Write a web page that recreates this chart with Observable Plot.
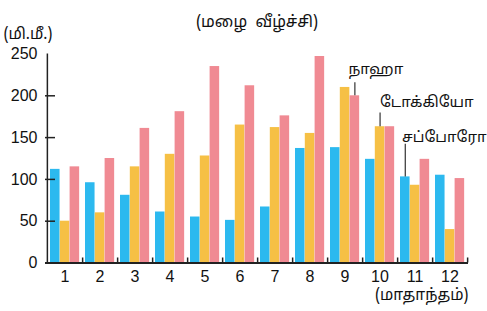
<!DOCTYPE html>
<html>
<head>
<meta charset="utf-8">
<script src="https://cdn.jsdelivr.net/npm/d3@7"></script>
<script src="https://cdn.jsdelivr.net/npm/@observablehq/plot@0.6"></script>
<style>
  html, body { margin: 0; padding: 0; background: #fff; }
  svg { display: block; }
</style>
</head>
<body>
<div id="chart"></div>
<script>
// ---- data ----
const months = [1, 2, 3, 4, 5, 6, 7, 8, 9, 10, 11, 12];
const cities = ["சப்போரோ", "டோக்கியோ", "நாஹா"];
const sapporo = [112, 96, 81, 61, 55, 51, 67, 137, 138, 124, 103, 105];
const tokyo   = [50, 60, 115, 130, 128, 165, 162, 155, 210, 163, 93, 40];
const naha    = [115, 125, 161, 181, 235, 212, 176, 247, 200, 163, 124, 101];
const yTicks = [0, 50, 100, 150, 200, 250];
const title = "(மழை  வீழ்ச்சி)";
const yUnit = "(மி.மீ.)";
const xUnit = "(மாதாந்தம்)";
// month at which each city's label is attached
const labelMonths = [11, 10, 9];

// ---- layout ----
const W = 487, H = 311;
const mL = 45, mR = 19, mT = 53.5, mB = 48.5;
const bw = (W - mL - mR) / months.length;
const barW = 9.8, padL = 3;
const colors = ["#2cb9ef", "#f6c045", "#f08a93"];
const tamilFont = "'Noto Sans Tamil', 'Noto Serif Tamil', 'Lohit Tamil', 'Latha', 'Liberation Sans', sans-serif";
const numFont = "'Liberation Sans', Arial, Helvetica, sans-serif";
// annotation layout: line top (data units), text centre (data units), text start offset from band centre (px)
const annLayout = [
  {lineTop: 142, textY: 151, dx: -13},
  {lineTop: 179.5, textY: 192, dx: 0},
  {lineTop: 215.5, textY: 232, dx: 3.4}
];

const series = [sapporo, tokyo, naha];
const table = [];
series.forEach((vals, i) => months.forEach((m, j) => table.push({month: m, city: cities[i], ci: i, value: vals[j]})));

const barMarks = series.map((vals, i) =>
  Plot.barY(table.filter(d => d.ci === i), {
    x: "month", y: "value", fill: colors[i],
    insetLeft: padL + barW * i,
    insetRight: bw - padL - barW * (i + 1)
  })
);

const annMarks = [];
cities.forEach((c, i) => {
  const m = labelMonths[i];
  const v = series[i][months.indexOf(m)];
  const centerDx = padL + barW * (i + 0.5) - bw / 2;
  annMarks.push(Plot.ruleX([{month: m, v, top: annLayout[i].lineTop}], {
    x: "month", y1: "v", y2: "top", dx: centerDx, stroke: "#333", strokeWidth: 1.2
  }));
  annMarks.push(Plot.text([{month: m, y: annLayout[i].textY, label: c}], {
    x: "month", y: "y", text: "label", textAnchor: "start", dx: annLayout[i].dx,
    fontSize: 15, fill: "#111", fontFamily: tamilFont
  }));
});

const chart = Plot.plot({
  width: W, height: H,
  marginLeft: mL, marginRight: mR, marginTop: mT, marginBottom: mB,
  style: {fontFamily: numFont, fontSize: "15px", color: "#111", background: "#fff"},
  x: {type: "band", domain: months, padding: 0, label: null},
  y: {domain: [0, 250], ticks: yTicks, label: null},
  marks: [
    ...barMarks,
    // y tick marks (inside)
    Plot.ruleY(yTicks.filter(t => t > 0 && t < 250), {stroke: "#222", strokeWidth: 1.5, insetRight: W - mL - mR - 10}),
    // x boundary ticks
    Plot.ruleX(months, {x: d => d, y1: 0, y2: 6, dx: bw / 2, stroke: "#222", strokeWidth: 1.5}),
    // y axis line
    Plot.ruleX([months[0]], {x: d => d, y1: 0, y2: 250, dx: -bw / 2, stroke: "#222", strokeWidth: 1.5}),
    // x axis line
    Plot.ruleY([0], {stroke: "#222", strokeWidth: 2}),
    Plot.axisY({ticks: yTicks, tickSize: 0, tickPadding: 8, fontSize: 16, fill: "#111", label: null}),
    Plot.axisX({tickSize: 0, tickPadding: 8, fontSize: 16, fill: "#111", label: null}),
    ...annMarks,
    Plot.text([title], {frameAnchor: "top", dy: -38.5, fontSize: 16, fill: "#111", fontFamily: tamilFont}),
    Plot.text([yUnit], {frameAnchor: "top-left", textAnchor: "start", dx: -42, dy: -26.5, fontSize: 15.5, fill: "#111", fontFamily: tamilFont}),
    Plot.text([xUnit], {frameAnchor: "bottom-right", textAnchor: "end", dy: 37, fontSize: 15.5, fill: "#111", fontFamily: tamilFont})
  ]
});
document.getElementById("chart").appendChild(chart);
</script>
</body>
</html>
